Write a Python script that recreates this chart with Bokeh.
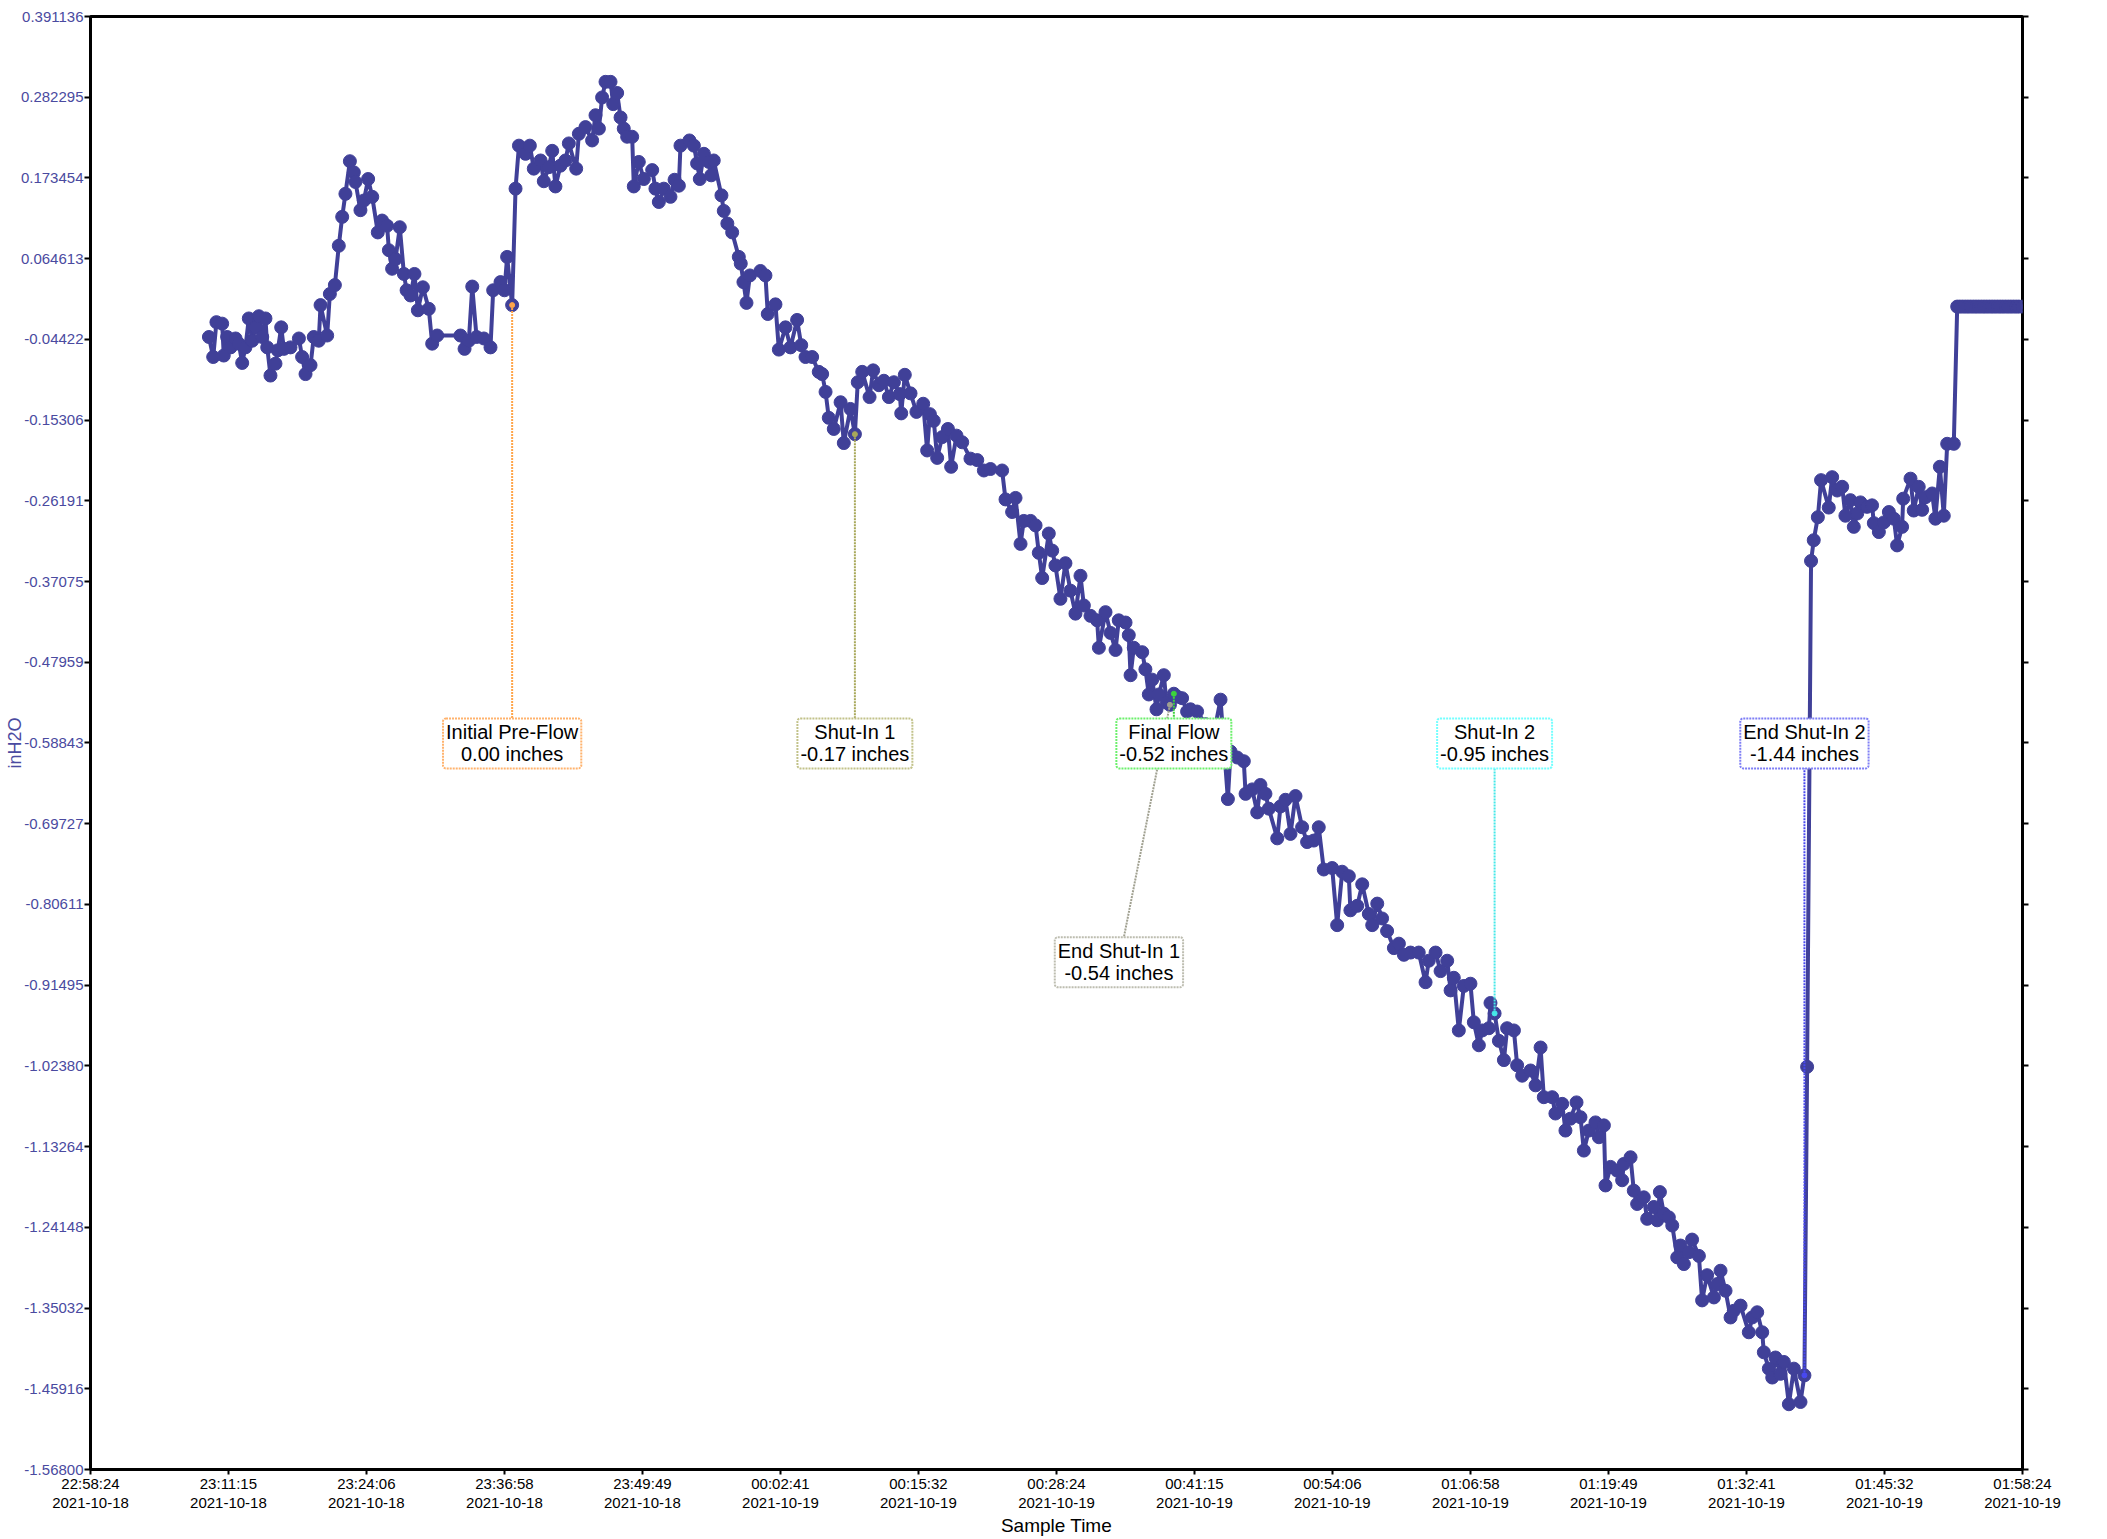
from datetime import datetime
from bokeh.plotting import figure
from bokeh.models import FixedTicker, LinearAxis, Label
from bokeh.embed import file_html
from bokeh.resources import INLINE

# ---------------- data ----------------
start_time = "2021-10-18 22:58:24"

# seconds after 22:58:24 on 2021-10-18
sample_sec = [
    662, 686, 704, 736, 745, 764, 783, 811, 829, 848, 866, 885, 904, 922, 941, 960, 978, 988, 1006, 1034,
    1047, 1066, 1081, 1118, 1165, 1183, 1202, 1230, 1248, 1276, 1286, 1323, 1338, 1366, 1388, 1407, 1425, 1450, 1472, 1481,
    1509, 1528, 1552, 1575, 1606, 1630, 1658, 1668, 1686, 1705, 1729, 1752, 1767, 1789, 1811, 1830, 1858, 1891, 1910, 1938,
    2068, 2091, 2115, 2134, 2158, 2199, 2236, 2251, 2292, 2314, 2329, 2357, 2376, 2395, 2432, 2456, 2478, 2516, 2534, 2562,
    2581, 2599, 2627, 2655, 2674, 2715, 2730, 2767, 2804, 2823, 2842, 2860, 2879, 2907, 2922, 2944, 2963, 2981, 3000, 3028,
    3037, 3065, 3093, 3140, 3158, 3177, 3205, 3242, 3265, 3289, 3298, 3348, 3373, 3391, 3406, 3429, 3457,
    3470, 3484, 3527, 3540, 3560, 3587, 3624, 3635, 3650, 3667, 3686, 3745, 3773, 3786, 3829, 3848, 3885, 3913, 3950, 3973,
    3997, 4034, 4071, 4090, 4109, 4127, 4155, 4193, 4211, 4248, 4273, 4289, 4314, 4355, 4375, 4407, 4435, 4463, 4491, 4524,
    4532, 4552, 4584, 4617, 4655, 4677, 4692, 4714, 4733, 4761, 4793, 4811, 4841, 4873, 4919, 4957, 4994, 5031, 5096,
    5115, 5152, 5171, 5199, 5217, 5255, 5283, 5301, 5320, 5357, 5376, 5394, 5422, 5450, 5478, 5506, 5534, 5553, 5590, 5627,
    5637, 5674, 5702, 5730, 5748, 5786, 5804, 5814, 5832, 5879, 5897, 5916, 5935, 5959, 5972, 6000, 6015, 6034, 6056, 6075,
    6102, 6130, 6149, 6186, 6233, 6276, 6317, 6358, 6373, 6410, 6447, 6457, 6494, 6522, 6540, 6568, 6587, 6634, 6652, 6680,
    6708, 6736, 6773, 6801, 6838, 6866, 6894, 6941, 6969, 6997, 7034, 7043, 7081, 7109, 7146, 7165, 7193, 7220, 7248, 7286,
    7314, 7342, 7379, 7425, 7463, 7481, 7519, 7547, 7584, 7603, 7621, 7649, 7677, 7714, 7733, 7761, 7780, 7817, 7826, 7849,
    7873, 7901, 7919,
    7957, 7975, 8003, 8050, 8078, 8106, 8124, 8171, 8189, 8227, 8245, 8273, 8307, 8329, 8348, 8376, 8413, 8432, 8460, 8469,
    8497, 8534, 8562, 8571, 8609, 8627, 8646, 8683, 8702, 8739, 8758, 8773, 8795, 8823, 8842, 8870, 8888, 8907, 8935, 8953,
    8991, 9009, 9037, 9075, 9093, 9112, 9140, 9168, 9186, 9224, 9270, 9289, 9317, 9345, 9354, 9382, 9401, 9419, 9447, 9466,
    9494, 9522, 9559, 9581, 9596,
    9618, 9633, 9656, 9674, 9717, 9736, 9764, 9792, 9810, 9838, 9857, 9876, 9894, 9931, 9959, 9969, 9997, 10025, 10053, 10081,
    10099, 10127, 10133, 10174, 10192, 10220, 10239, 10258, 10295, 10313, 10338, 10360, 10379, 10416,
    10435, 10450, 10465, 10480, 10495, 10510, 10525, 10540, 10555, 10570, 10585, 10600, 10615, 10630, 10645, 10660,
    10675, 10690, 10705, 10720, 10735, 10750, 10765, 10780, 10800,
]

inh2o = [
    -0.041, -0.068, -0.021, -0.023, -0.066, -0.041, -0.055, -0.043, -0.050, -0.076, -0.055, -0.016, -0.046, -0.028, -0.013, -0.041, -0.016, -0.055, -0.093, -0.077,
    -0.059, -0.028, -0.057, -0.055, -0.043, -0.068, -0.091, -0.079, -0.041, -0.046, 0.002, -0.039, 0.017, 0.029, 0.082, 0.121, 0.152, 0.196, 0.181, 0.168,
    0.130, 0.143, 0.172, 0.148, 0.100, 0.116, 0.109, 0.076, 0.051, 0.064, 0.107, 0.044, 0.022, 0.015, 0.044, -0.005, 0.026, -0.003, -0.050, -0.039,
    -0.039, -0.057, -0.046, 0.027, -0.041, -0.043, -0.055, 0.022, 0.033, 0.022, 0.067, 0.002, 0.159, 0.217, 0.206, 0.217, 0.186, 0.197, 0.169, 0.188,
    0.210, 0.162, 0.190, 0.197, 0.220, 0.186, 0.233, 0.242, 0.224, 0.258, 0.240, 0.282, 0.303, 0.303, 0.273, 0.288, 0.255, 0.240, 0.229, 0.229,
    0.162, 0.195, 0.172, 0.184, 0.159, 0.141, 0.159, 0.148, 0.171, 0.163, 0.217, 0.224, 0.217, 0.193, 0.172, 0.206, 0.195,
    0.177, 0.197, 0.150, 0.129, 0.112, 0.100, 0.067, 0.058, 0.033, 0.005, 0.042, 0.048, 0.042, -0.010, 0.003, -0.058, -0.028, -0.055, -0.018, -0.052,
    -0.068, -0.068, -0.088, -0.091, -0.115, -0.150, -0.165, -0.129, -0.184, -0.138, -0.172, -0.102, -0.088, -0.122, -0.086, -0.106, -0.100, -0.122, -0.102, -0.118,
    -0.144, -0.092, -0.117, -0.142, -0.131, -0.194, -0.145, -0.154, -0.204, -0.176, -0.165, -0.216, -0.174, -0.183, -0.205, -0.207, -0.221, -0.219, -0.221,
    -0.260, -0.277, -0.258, -0.320, -0.289, -0.289, -0.295, -0.332, -0.366, -0.306, -0.329, -0.349, -0.394, -0.346, -0.383, -0.414, -0.363, -0.403, -0.417, -0.423,
    -0.460, -0.412, -0.440, -0.463, -0.423, -0.426, -0.443, -0.497, -0.460, -0.466, -0.489, -0.523, -0.503, -0.543, -0.523, -0.497, -0.534, -0.537, -0.522, -0.526,
    -0.528, -0.546, -0.543, -0.546, -0.563, -0.580, -0.530, -0.664, -0.600, -0.608, -0.613, -0.657, -0.651, -0.682, -0.645, -0.657, -0.677, -0.717, -0.674, -0.665,
    -0.711, -0.660, -0.702, -0.722, -0.720, -0.702, -0.759, -0.757, -0.834, -0.762, -0.768, -0.814, -0.808, -0.779, -0.819, -0.834, -0.805, -0.825, -0.842, -0.865,
    -0.859, -0.874, -0.871, -0.871, -0.911, -0.882, -0.871, -0.896, -0.882, -0.922, -0.905, -0.976, -0.916, -0.913, -0.965, -0.996, -0.976, -0.973, -0.939, -0.953,
    -0.990, -1.016, -0.973,
    -0.976, -1.023, -1.037, -1.030, -1.050, -0.999, -1.066, -1.066, -1.088, -1.075, -1.111, -1.095, -1.073, -1.093, -1.138, -1.111, -1.100, -1.120, -1.104, -1.185,
    -1.160, -1.165, -1.178, -1.156, -1.147, -1.192, -1.210, -1.201, -1.230, -1.214, -1.232, -1.194, -1.223, -1.228, -1.239, -1.282, -1.266, -1.291, -1.275, -1.258,
    -1.280, -1.340, -1.306, -1.336, -1.318, -1.300, -1.327, -1.363, -1.354, -1.347, -1.383, -1.363, -1.356, -1.383, -1.410, -1.432, -1.444, -1.417, -1.439, -1.423,
    -1.480, -1.432, -1.477, -1.441, -1.025,
    -0.343, -0.315, -0.284, -0.234, -0.271, -0.230, -0.248, -0.243, -0.282, -0.261, -0.297, -0.279, -0.264, -0.270, -0.268, -0.292, -0.304, -0.291, -0.277, -0.286,
    -0.322, -0.297, -0.259, -0.232, -0.275, -0.243, -0.274, -0.257, -0.252, -0.286, -0.216, -0.282, -0.185, -0.185,
    0.000, 0.000, 0.000, 0.000, 0.000, 0.000, 0.000, 0.000, 0.000, 0.000, 0.000, 0.000, 0.000, 0.000, 0.000, 0.000,
    0.000, 0.000, 0.000, 0.000, 0.000, 0.000, 0.000, 0.000, 0.000,
]

# annotations
event_names = ["Initial Pre-Flow", "Shut-In 1", "End Shut-In 1", "Final Flow", "Shut-In 2", "End Shut-In 2"]
event_sec = [2357, 4273, 6034, 6056, 7849, 9581]
event_val = [0.002, -0.172, -0.537, -0.522, -0.953, -1.441]
event_box_sec = [2357, 4273, 5749, 6056, 7849, 9581]
event_box_val = [-0.589, -0.589, -0.884, -0.589, -0.589, -0.589]
event_line_colors = ["#ffa54a", "#a8a85a", "#a0a090", "#3cd23c", "#46e8e8", "#4848f0"]
event_box_colors = ["#ffb36e", "#c2c28a", "#bdbdb0", "#6cf06c", "#74ffff", "#7f7ff5"]

# axis tick labels
x_tick_times = ["22:58:24", "23:11:15", "23:24:06", "23:36:58", "23:49:49", "00:02:41", "00:15:32", "00:28:24",
                "00:41:15", "00:54:06", "01:06:58", "01:19:49", "01:32:41", "01:45:32", "01:58:24"]
x_tick_dates = ["2021-10-18"] * 5 + ["2021-10-19"] * 10
y_tick_labels = ["0.391136", "0.282295", "0.173454", "0.064613", "-0.04422", "-0.15306", "-0.26191", "-0.37075",
                 "-0.47959", "-0.58843", "-0.69727", "-0.80611", "-0.91495", "-1.02380", "-1.13264", "-1.24148",
                 "-1.35032", "-1.45916", "-1.56800"]

# ---------------- derived ticks ----------------
t0 = datetime.strptime(start_time, "%Y-%m-%d %H:%M:%S")
x_ticks = [int(round((datetime.strptime(d + " " + t, "%Y-%m-%d %H:%M:%S") - t0).total_seconds()))
           for t, d in zip(x_tick_times, x_tick_dates)]
x_overrides = {k: f"{t}\n{d}" for k, t, d in zip(x_ticks, x_tick_times, x_tick_dates)}
y_ticks = [float(s) for s in y_tick_labels]
y_overrides = {float(s): s for s in y_tick_labels}

NAVY = "#404098"
TICK_BLUE = "#4a4aa0"
FONT = "Liberation Sans"

p = figure(
    frame_width=1932, frame_height=1453,
    x_range=(x_ticks[0], x_ticks[-1]), y_range=(y_ticks[-1], y_ticks[0]),
    output_backend="svg", toolbar_location=None,
    min_border_left=90, min_border_top=16, min_border_right=70, min_border_bottom=50,
)
p.xgrid.visible = False
p.ygrid.visible = False
p.outline_line_color = "black"
p.outline_line_width = 3
p.outline_line_alpha = 1.0

# bottom axis
xa = p.xaxis[0]
xa.ticker = FixedTicker(ticks=x_ticks)
xa.major_label_overrides = x_overrides
xa.axis_line_color = None
xa.major_tick_out = 5
xa.major_tick_in = 0
xa.major_tick_line_width = 2
xa.major_tick_line_color = "black"
xa.minor_tick_line_color = None
xa.major_label_text_font = FONT
xa.major_label_text_font_size = "15px"
xa.major_label_text_line_height = 1.15
xa.major_label_text_color = "black"
xa.major_label_standoff = 0
xa.axis_label = "Sample Time"
xa.axis_label_text_font = FONT
xa.axis_label_text_font_size = "19px"
xa.axis_label_text_font_style = "normal"
xa.axis_label_text_color = "black"
xa.axis_label_standoff = 1

# left axis
ya = p.yaxis[0]
ya.ticker = FixedTicker(ticks=y_ticks)
ya.major_label_overrides = y_overrides
ya.axis_line_color = None
ya.major_tick_out = 6
ya.major_tick_in = 0
ya.major_tick_line_width = 2
ya.major_tick_line_color = "black"
ya.minor_tick_line_color = None
ya.major_label_text_font = FONT
ya.major_label_text_font_size = "15px"
ya.major_label_text_color = TICK_BLUE
ya.major_label_standoff = 1
ya.axis_label = "inH2O"
ya.axis_label_text_font = FONT
ya.axis_label_text_font_size = "18px"
ya.axis_label_text_font_style = "normal"
ya.axis_label_text_color = TICK_BLUE
ya.axis_label_standoff = -7

# right axis: ticks only
ra = LinearAxis(ticker=FixedTicker(ticks=y_ticks),
                major_label_overrides={v: "" for v in y_ticks},
                axis_line_color=None, major_tick_out=6, major_tick_in=0,
                major_tick_line_width=2, major_tick_line_color="black",
                minor_tick_line_color=None, major_label_text_font_size="1px")
p.add_layout(ra, "right")

# data series
p.line(sample_sec, inh2o, line_color=NAVY, line_width=4)
p.scatter(sample_sec, inh2o, size=13, fill_color=NAVY, line_color=NAVY)

# event connectors
p.segment(x0=event_sec, y0=event_val, x1=event_box_sec, y1=event_box_val,
          line_color=event_line_colors, line_width=2, line_dash="2 1")
p.scatter(event_sec, event_val, size=5, fill_color=event_line_colors, line_color=event_line_colors)

# event label boxes
for name, v, bx, by, bc in zip(event_names, event_val, event_box_sec, event_box_val, event_box_colors):
    p.add_layout(Label(x=bx, y=by, text=f"{name}\n{v:.2f} inches",
                       text_align="center", text_baseline="middle",
                       text_font=FONT, text_font_size="20px", text_color="black",
                       text_line_height=1.0,
                       background_fill_color="white", background_fill_alpha=1.0,
                       border_line_color=bc, border_line_width=2, border_line_dash="2 1",
                       padding=3, border_radius=3))

open("out.html", "w").write(file_html(p, INLINE))
